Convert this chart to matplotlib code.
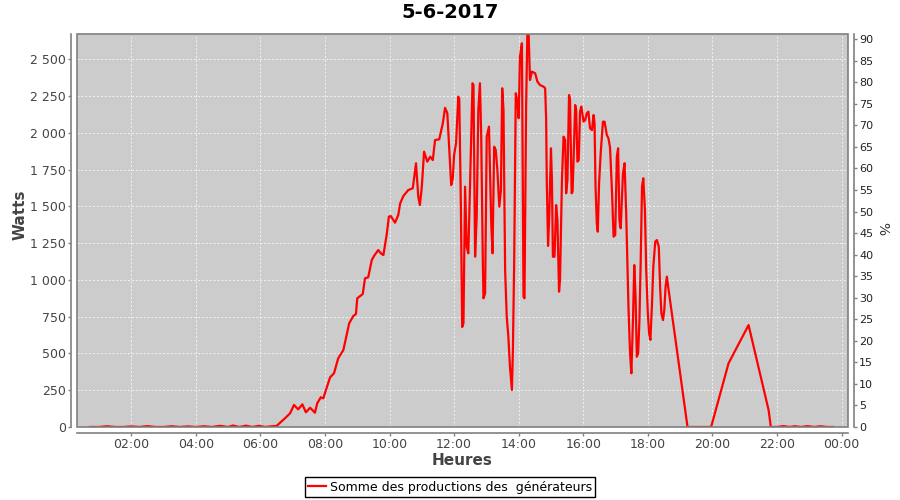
import matplotlib
matplotlib.use("Agg")
import matplotlib.pyplot as plt
from matplotlib.patches import Rectangle
from matplotlib.ticker import FuncFormatter, MultipleLocator

# ------------ Data ------------

# time of day in decimal hours
heures = [
    0.72, 1.00, 1.25, 1.50, 1.75, 2.00, 2.25, 2.50, 2.75, 3.00,
    3.25, 3.50, 3.75, 4.00, 4.25, 4.50, 4.75, 5.00, 5.15, 5.35,
    5.55, 5.75, 5.95, 6.15, 6.35, 6.50,
    6.76, 6.92, 7.04, 7.17, 7.30, 7.41, 7.54, 7.69, 7.76, 7.87,
    7.95, 8.03, 8.16, 8.28, 8.41, 8.57, 8.75, 8.88, 8.96, 9.00,
    9.17, 9.24, 9.34, 9.45, 9.52, 9.65, 9.73, 9.81, 9.91, 9.98,
    10.04, 10.17, 10.27, 10.33, 10.43, 10.58, 10.72, 10.82, 10.89, 10.94,
    11.00, 11.07, 11.17, 11.26, 11.34, 11.41, 11.54, 11.65, 11.72, 11.79,
    11.85, 11.91, 11.96, 12.00, 12.06, 12.13, 12.16, 12.21, 12.25, 12.29,
    12.34, 12.39, 12.44, 12.49, 12.57, 12.60, 12.65, 12.70, 12.75, 12.80,
    12.84, 12.89, 12.91, 12.96, 13.01, 13.08, 13.15, 13.19, 13.24, 13.29,
    13.34, 13.40, 13.45, 13.49, 13.53, 13.58, 13.63, 13.68, 13.73, 13.79,
    13.82, 13.86, 13.91, 13.96, 14.00, 14.04, 14.10, 14.15, 14.18, 14.23,
    14.27, 14.31, 14.35, 14.41, 14.51, 14.58, 14.66, 14.77, 14.82, 14.85,
    14.87, 14.91, 14.95, 15.00, 15.03, 15.06, 15.11, 15.16, 15.20, 15.25,
    15.28, 15.34, 15.39, 15.44, 15.47, 15.51, 15.56, 15.59, 15.64, 15.67,
    15.75, 15.78, 15.82, 15.86, 15.90, 15.94, 16.01, 16.06, 16.11, 16.16,
    16.21, 16.27, 16.32, 16.35, 16.38, 16.42, 16.45, 16.49, 16.54, 16.61,
    16.66, 16.73, 16.78, 16.83, 16.89, 16.94, 16.99, 17.04, 17.08, 17.12,
    17.16, 17.23, 17.28, 17.33, 17.40, 17.45, 17.49, 17.54, 17.58, 17.62,
    17.66, 17.70, 17.74, 17.78, 17.82, 17.86, 17.91, 17.95, 18.00, 18.04,
    18.08, 18.13, 18.17, 18.23, 18.28, 18.34, 18.38, 18.42, 18.47, 18.51,
    18.55, 18.59, 18.63, 19.23, 19.96, 20.50, 21.12, 21.74, 21.81, 22.00,
    22.20, 22.40, 22.55, 22.75, 22.95, 23.15, 23.35, 23.55, 23.74,
]

# production in watts
watts = [
    0, 0, 5, 0, 0, 4, 0, 6, 0, 0,
    5, 0, 4, 0, 5, 0, 8, 0, 10, 0,
    9, 0, 8, 0, 5, 7,
    59, 93, 150, 120, 154, 100, 131, 97, 161, 202,
    195, 252, 338, 365, 467, 523, 705, 755, 768, 875,
    904, 1011, 1018, 1135, 1163, 1203, 1181, 1169, 1305, 1430,
    1434, 1389, 1441, 1521, 1571, 1611, 1623, 1793, 1566, 1509,
    1634, 1872, 1804, 1838, 1815, 1951, 1956, 2065, 2170, 2133,
    1895, 1645, 1691, 1849, 1929, 2246, 2230, 1500, 680, 705,
    1634, 1226, 1181, 1611, 2337, 2325, 1158, 1430, 2155, 2337,
    1974, 1113, 875, 909, 1974, 2042, 1385, 1181, 1906, 1883,
    1747, 1498, 1611, 2303, 2155, 1067, 750, 614, 410, 252,
    512, 1113, 2269, 2212, 2099, 2518, 2609, 886, 875, 2178,
    2690, 2660, 2359, 2416, 2405, 2348, 2325, 2314, 2303, 2099,
    1679, 1231, 1453, 1895, 1679, 1158, 1158, 1509, 1407, 920,
    999, 1679, 1974, 1951, 1589, 1679, 2257, 2223, 1589, 1600,
    2189, 2155, 1804, 1815, 2144, 2178, 2076, 2087, 2133, 2144,
    2031, 2019, 2121, 2065, 1634, 1385, 1328, 1657, 1861, 2076,
    2076, 1985, 1963, 1900, 1600, 1294, 1305, 1838, 1895, 1407,
    1351, 1725, 1793, 1453, 818, 501, 365, 727, 1101, 886,
    478, 501, 727, 1135, 1634, 1691, 1475, 1067, 773, 637,
    592, 841, 1090, 1260, 1271, 1226, 954, 773, 727, 795,
    954, 1022, 954, 0, 0, 433, 693, 116, 0, 0,
    6, 0, 5, 0, 6, 0, 5, 0, 0,
]

x_ticks = [2, 4, 6, 8, 10, 12, 14, 16, 18, 20, 22, 24]
x_labels = ["02:00", "04:00", "06:00", "08:00", "10:00", "12:00",
            "14:00", "16:00", "18:00", "20:00", "22:00", "00:00"]

titre = "5-6-2017"
serie = "Somme des productions des  générateurs"

# ------------ Figure ------------

fig = plt.figure(figsize=(9, 5), dpi=100)
ax = fig.add_axes([77 / 900, 73 / 500, 771 / 900, 393 / 500])
ax.set_facecolor("#cccccc")

ax.plot(heures, watts, color="#ff0000", lw=1.6, label=serie, zorder=2)

ax.set_xlim(0.32, 24.2)
ax.set_ylim(0, 2672)
ax.set_xticks(x_ticks)
ax.set_xticklabels(x_labels)
ax.yaxis.set_major_locator(MultipleLocator(250))
ax.yaxis.set_major_formatter(FuncFormatter(lambda v, p: f"{int(v):,}".replace(",", " ")))

ax.grid(True, color="#f2f2f2", linestyle=(0, (2, 2)), linewidth=0.7)
ax.set_axisbelow(True)

for s in ["top", "right"]:
    ax.spines[s].set_visible(False)
ax.spines["left"].set_position(("outward", 4))
ax.spines["bottom"].set_position(("outward", 4))
for s in ["left", "bottom"]:
    ax.spines[s].set_color("#808080")
    ax.spines[s].set_linewidth(1.2)

ax.tick_params(direction="out", length=2, width=1, color="#808080",
               labelcolor="#444444", labelsize=9, pad=2)

ax.set_xlabel("Heures", fontsize=11, fontweight="bold", color="#444444")
ax.xaxis.set_label_coords(0.5, -0.066)
ax.set_ylabel("Watts", fontsize=11, fontweight="bold", color="#444444")
ax.yaxis.set_label_coords(-0.0636, 0.54)

# right axis in percent
ax2 = ax.twinx()
ax2.set_ylim(0, 91.2)
ax2.yaxis.set_major_locator(MultipleLocator(5))
for s in ["top", "left", "bottom"]:
    ax2.spines[s].set_visible(False)
ax2.spines["right"].set_position(("outward", 4))
ax2.spines["right"].set_color("#808080")
ax2.spines["right"].set_linewidth(1.2)
ax2.tick_params(direction="out", length=2, width=1, color="#808080",
                labelcolor="#222222", labelsize=8, pad=2)
ax2.set_ylabel("%", fontsize=10, color="#333333", rotation=270, va="center")
ax2.yaxis.set_label_coords(1.044, 0.506)

# plot outline drawn on top of the line
ax2.add_patch(Rectangle((0, 0), 1, 1, transform=ax2.transAxes, fill=False,
                        edgecolor="#808080", linewidth=1.2, zorder=5, clip_on=False))

fig.text(0.5, 1 - 13 / 500, titre, ha="center", va="center",
         fontsize=14, fontweight="bold")

fig.legend(loc="center", bbox_to_anchor=(0.5, 1 - 487 / 500), fontsize=9,
           frameon=True, fancybox=False, edgecolor="black", framealpha=1,
           handlelength=1.4, handletextpad=0.3, borderpad=0.3)

fig.savefig("out.png", dpi=100)
